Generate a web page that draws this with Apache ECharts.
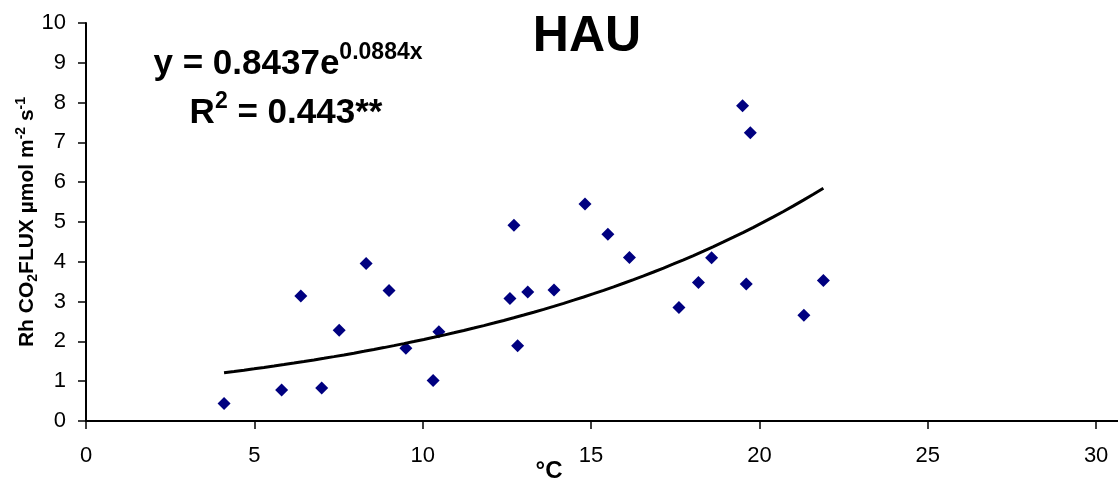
<!DOCTYPE html>
<html>
<head>
<meta charset="utf-8">
<title>HAU</title>
<script src="https://cdn.jsdelivr.net/npm/echarts@6/dist/echarts.min.js"></script>
<style>
  html, body { margin: 0; padding: 0; background: #fff; }
  #chart { width: 1118px; height: 484px; }
</style>
</head>
<body>
<div id="chart"></div>
<script>
// Soil temperature (°C) and heterotrophic respiration flux (µmol m-2 s-1)
const temperature = [4.10, 5.81, 6.38, 7.00, 7.52, 8.32, 9.00, 9.50, 10.31, 10.48,
  12.59, 12.71, 12.82, 13.12, 13.90, 14.82, 15.50, 16.14, 17.61, 18.19,
  18.58, 19.50, 19.61, 19.73, 21.32, 21.90];
const rhFlux = [0.44, 0.78, 3.14, 0.83, 2.28, 3.96, 3.28, 1.83, 1.02, 2.24,
  3.08, 4.92, 1.89, 3.24, 3.29, 5.45, 4.69, 4.11, 2.85, 3.48,
  4.10, 7.92, 3.44, 7.24, 2.66, 3.53];

// Exponential fit y = a * e^(b x), as printed on the chart
const fitA = 0.8437;
const fitB = 0.0884;
const fitR2 = '0.443';
const fitStars = '**';

const xTicks = [0, 5, 10, 15, 20, 25, 30];
const yTicks = [0, 1, 2, 3, 4, 5, 6, 7, 8, 9, 10];
const stationName = 'HAU';

const points = temperature.map((t, i) => [t, rhFlux[i]]);

// fitted curve across the observed temperature range
const tMin = Math.min(...temperature);
const tMax = Math.max(...temperature);
const fitLine = [];
const steps = 60;
for (let i = 0; i <= steps; i++) {
  const t = tMin + (tMax - tMin) * i / steps;
  fitLine.push([t, fitA * Math.exp(fitB * t)]);
}

const FONT = '"Liberation Sans", Arial, sans-serif';

const eqRich = {
  m: { fontFamily: FONT, fontWeight: 'bold', fontSize: 35, lineHeight: 46, color: '#000' },
  s: { fontFamily: FONT, fontWeight: 'bold', fontSize: 23, lineHeight: 23, verticalAlign: 'top', color: '#000' }
};

const chart = echarts.init(document.getElementById('chart'), null, { renderer: 'canvas' });
chart.setOption({
  backgroundColor: '#ffffff',
  animation: false,
  textStyle: { fontFamily: FONT },
  title: [
    {
      text: stationName,
      left: 587, top: 12, textAlign: 'center', padding: 0,
      textStyle: { fontFamily: FONT, fontWeight: 'bold', fontSize: 50, color: '#000' }
    },
    {
      text: '{m|y = ' + fitA + 'e}{s|' + fitB + 'x}',
      left: 288, top: 41, textAlign: 'center', padding: 0,
      textStyle: { rich: eqRich }
    },
    {
      text: '{m|R}{s|2}{m| = ' + fitR2 + fitStars + '}',
      left: 286, top: 90, textAlign: 'center', padding: 0,
      textStyle: { rich: eqRich }
    }
  ],
  grid: { left: 86, right: 0, top: 23, bottom: 63, containLabel: false, outerBoundsMode: 'none' },
  xAxis: {
    type: 'value',
    min: 0, max: 30.65, interval: 5,
    name: '°C',
    nameLocation: 'middle',
    nameGap: 38,
    nameMoveOverlap: false,
    nameTextStyle: { fontFamily: FONT, fontWeight: 'bold', fontSize: 24, color: '#000', padding: [0, 106, 0, 0] },
    splitLine: { show: false },
    axisLine: { onZero: false, lineStyle: { color: '#000', width: 2 } },
    axisTick: { show: true, inside: false, length: 8, customValues: xTicks, lineStyle: { color: '#000', width: 1.5 } },
    axisLabel: { customValues: xTicks, margin: 24, fontFamily: FONT, fontSize: 22, color: '#000' }
  },
  yAxis: {
    type: 'value',
    min: 0, max: 10, interval: 1,
    name: '{b|Rh CO}{sub|2}{b|FLUX µmol m}{sup|-2}{b| s}{sup|-1}',
    nameLocation: 'middle',
    nameRotate: 90,
    nameGap: 46,
    nameMoveOverlap: false,
    nameTextStyle: {
      rich: {
        b: { fontFamily: FONT, fontWeight: 'bold', fontSize: 21, lineHeight: 26, color: '#000' },
        sub: { fontFamily: FONT, fontWeight: 'bold', fontSize: 14, lineHeight: 14, verticalAlign: 'bottom', color: '#000' },
        sup: { fontFamily: FONT, fontWeight: 'bold', fontSize: 14, lineHeight: 14, verticalAlign: 'top', color: '#000' }
      }
    },
    splitLine: { show: false },
    axisLine: { onZero: false, lineStyle: { color: '#000', width: 2 } },
    axisTick: { show: true, inside: false, length: 8, lineStyle: { color: '#000', width: 1.5 } },
    axisLabel: { customValues: yTicks, margin: 20, fontFamily: FONT, fontSize: 22, color: '#000' }
  },
  series: [
    {
      name: 'Rh',
      type: 'scatter',
      data: points,
      symbol: 'diamond',
      symbolSize: 13,
      itemStyle: { color: '#000080', opacity: 1 },
      z: 3
    },
    {
      name: 'fit',
      type: 'line',
      data: fitLine,
      showSymbol: false,
      smooth: false,
      lineStyle: { color: '#000', width: 3 },
      z: 4
    }
  ]
});
</script>
</body>
</html>
